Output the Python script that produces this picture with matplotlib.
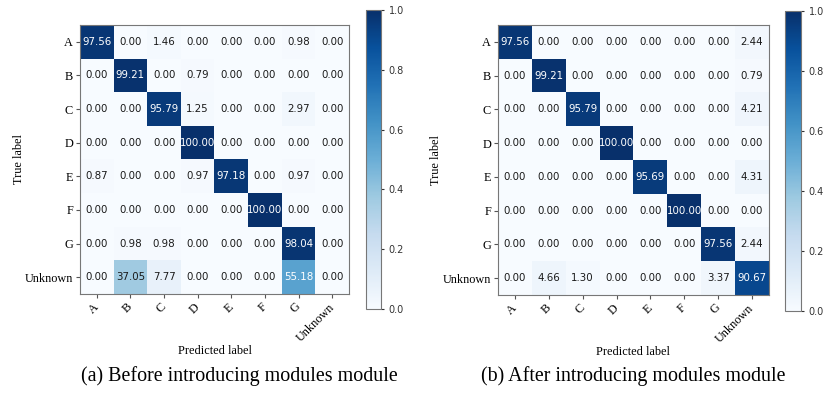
import matplotlib.pyplot as plt
import matplotlib.transforms as mtransforms
import numpy as np

classes = ["A", "B", "C", "D", "E", "F", "G", "Unknown"]

before = np.array([
    [97.56, 0.00, 1.46, 0.00, 0.00, 0.00, 0.98, 0.00],
    [0.00, 99.21, 0.00, 0.79, 0.00, 0.00, 0.00, 0.00],
    [0.00, 0.00, 95.79, 1.25, 0.00, 0.00, 2.97, 0.00],
    [0.00, 0.00, 0.00, 100.00, 0.00, 0.00, 0.00, 0.00],
    [0.87, 0.00, 0.00, 0.97, 97.18, 0.00, 0.97, 0.00],
    [0.00, 0.00, 0.00, 0.00, 0.00, 100.00, 0.00, 0.00],
    [0.00, 0.98, 0.98, 0.00, 0.00, 0.00, 98.04, 0.00],
    [0.00, 37.05, 7.77, 0.00, 0.00, 0.00, 55.18, 0.00],
])

after = np.array([
    [97.56, 0.00, 0.00, 0.00, 0.00, 0.00, 0.00, 2.44],
    [0.00, 99.21, 0.00, 0.00, 0.00, 0.00, 0.00, 0.79],
    [0.00, 0.00, 95.79, 0.00, 0.00, 0.00, 0.00, 4.21],
    [0.00, 0.00, 0.00, 100.00, 0.00, 0.00, 0.00, 0.00],
    [0.00, 0.00, 0.00, 0.00, 95.69, 0.00, 0.00, 4.31],
    [0.00, 0.00, 0.00, 0.00, 0.00, 100.00, 0.00, 0.00],
    [0.00, 0.00, 0.00, 0.00, 0.00, 0.00, 97.56, 2.44],
    [0.00, 4.66, 1.30, 0.00, 0.00, 0.00, 3.37, 90.67],
])

captions = ["(a) Before introducing modules module",
            "(b) After introducing modules module"]

serif = "Liberation Serif"
W, H = 831, 397
fig = plt.figure(figsize=(W / 100, H / 100), dpi=100)


def px(x0, y0, x1, y1):
    # pixel box -> figure fraction rect
    return [x0 / W, 1 - y1 / H, (x1 - x0) / W, (y1 - y0) / H]


def plot_cm(cm, ax_box, cb_box, caption, cap_x):
    ax = fig.add_axes(px(*ax_box))
    cax = fig.add_axes(px(*cb_box))
    norm = cm / 100.0
    im = ax.imshow(norm, interpolation="nearest", cmap="Blues",
                   vmin=0, vmax=1, aspect="auto")
    cb = fig.colorbar(im, cax=cax)
    cb.outline.set_edgecolor("#777777")
    cb.ax.tick_params(labelsize=7, length=2, colors="#333333")
    cb.set_ticks([0.0, 0.2, 0.4, 0.6, 0.8, 1.0])

    n = len(classes)
    ax.set_xticks(np.arange(n))
    ax.set_yticks(np.arange(n))
    ax.set_xticklabels(classes, rotation=45, ha="right",
                       fontfamily=serif, fontsize=8.8)
    ax.set_yticklabels(classes, fontfamily=serif, fontsize=8.8)
    ax.tick_params(length=3, color="#555555", pad=2)
    shift = mtransforms.ScaledTranslation(0.045, 0, fig.dpi_scale_trans)
    for lbl in ax.get_xticklabels():
        lbl.set_transform(lbl.get_transform() + shift)
    for s in ax.spines.values():
        s.set_edgecolor("#777777")

    for i in range(n):
        for j in range(n):
            ax.text(j, i, format(cm[i, j], ".2f"), ha="center", va="center",
                    fontsize=7.4,
                    color="white" if norm[i, j] > 0.5 else "#1a1a1a")

    ax.set_xlabel("Predicted label", fontfamily=serif, fontsize=8.8, labelpad=1)
    ax.set_ylabel("True label", fontfamily=serif, fontsize=8.8)
    fig.text(cap_x / W, 1 - 376 / H, caption, ha="center", va="center",
             fontfamily=serif, fontsize=14.4)
    return ax


ax1 = plot_cm(before, (80, 25, 349, 294), (366, 10, 381, 309), captions[0], 239)
ax2 = plot_cm(after, (498, 25, 769, 295), (785, 11, 801, 311), captions[1], 633)
ax1.yaxis.set_label_coords(-0.205, 0.5)
ax2.yaxis.set_label_coords(-0.205, 0.5)

fig.savefig("out.png", dpi=100)
